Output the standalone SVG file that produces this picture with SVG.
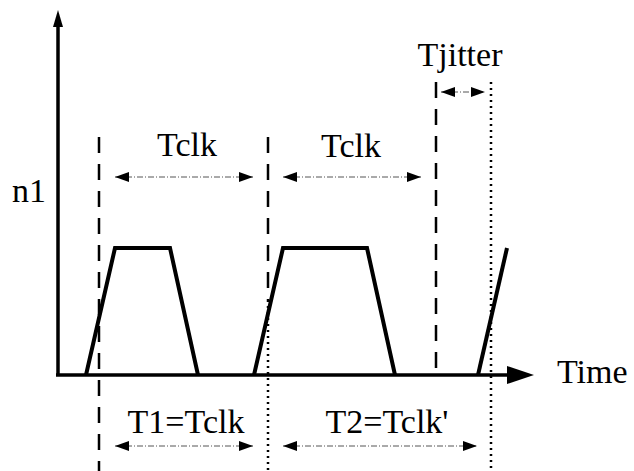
<svg xmlns="http://www.w3.org/2000/svg" width="634" height="471" viewBox="0 0 634 471">
  <style>
    .lbl { font-family: "Liberation Serif", "Times New Roman", "DejaVu Serif", serif; font-size: 34px; fill: #000; }
    .axis { stroke: #000; stroke-width: 3.5; fill: none; }
    .wave { stroke: #000; stroke-width: 4; fill: none; stroke-linejoin: miter; }
    .dash { stroke: #000; stroke-width: 2.5; fill: none; stroke-dasharray: 16 11; }
    .dot { stroke: #000; stroke-width: 2.5; fill: none; stroke-dasharray: 2 4; }
    .span { stroke: #555; stroke-width: 1; fill: none; stroke-dasharray: 6 2 1 2; }
  </style>
  <defs>
    <marker id="ah" viewBox="0 0 14 10" refX="14" refY="5" markerWidth="14" markerHeight="10" markerUnits="userSpaceOnUse" orient="auto-start-reverse">
      <path d="M0 0 L14 5 L0 10 Z" fill="#000"/>
    </marker>
  </defs>

  <!-- axes -->
  <g id="axes">
    <line class="axis" x1="58" y1="375" x2="58" y2="26"/>
    <path d="M53 27 L58 10 L63 27 Z" fill="#000"/>
    <line class="axis" x1="56" y1="375" x2="508" y2="375"/>
    <path d="M507 366 L534 375 L507 384 Z" fill="#000"/>
  </g>

  <!-- clock waveform -->
  <g id="waveform">
    <polyline class="wave" points="86,375 115,248 170,248 198,375"/>
    <polyline class="wave" points="254,375 283,248 367,248 395,375"/>
    <polyline class="wave" points="478,375 507,248"/>
  </g>

  <!-- edge markers -->
  <g id="markers">
    <line class="dash" x1="99" y1="137" x2="99" y2="471"/>
    <line class="dash" x1="268" y1="137" x2="268" y2="300"/>
    <line class="dot" x1="268" y1="300" x2="268" y2="471"/>
    <line class="dash" x1="436" y1="82" x2="436" y2="375"/>
    <line class="dot" x1="491" y1="82" x2="491" y2="471"/>
  </g>

  <!-- interval arrows -->
  <g id="connectors">
    <line class="span" x1="115" y1="177" x2="253" y2="177" marker-start="url(#ah)" marker-end="url(#ah)"/>
    <line class="span" x1="283" y1="177" x2="421" y2="177" marker-start="url(#ah)" marker-end="url(#ah)"/>
    <line class="span" x1="441" y1="92" x2="485" y2="92" marker-start="url(#ah)" marker-end="url(#ah)"/>
    <line class="span" x1="115" y1="446" x2="253" y2="446" marker-start="url(#ah)" marker-end="url(#ah)"/>
    <line class="span" x1="283" y1="446" x2="477" y2="446" marker-start="url(#ah)" marker-end="url(#ah)"/>
  </g>

  <!-- labels -->
  <g id="labels">
    <text class="lbl" x="12" y="202">n1</text>
    <text class="lbl" x="557" y="383">Time</text>
    <text class="lbl" x="187" y="156" text-anchor="middle">Tclk</text>
    <text class="lbl" x="351" y="157" text-anchor="middle">Tclk</text>
    <text class="lbl" x="460" y="66" text-anchor="middle">Tjitter</text>
    <text class="lbl" x="186" y="433" text-anchor="middle">T1=Tclk</text>
    <text class="lbl" x="387" y="433" text-anchor="middle">T2=Tclk'</text>
  </g>
</svg>
